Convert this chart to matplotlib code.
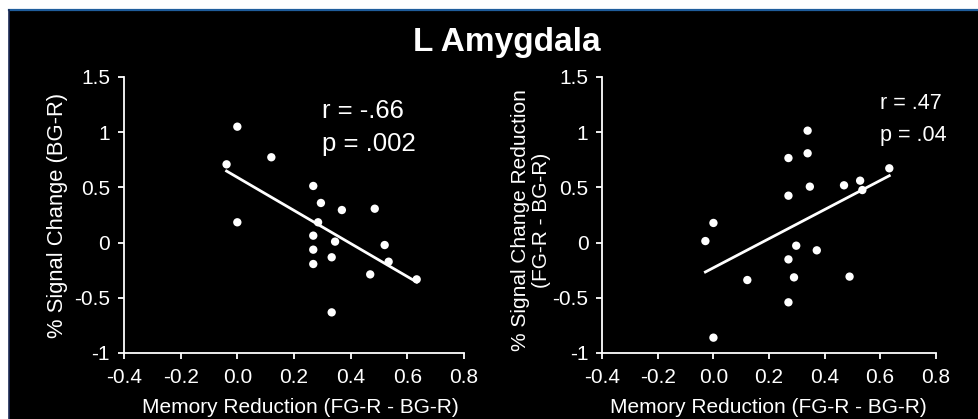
import numpy as np
import matplotlib
matplotlib.use("Agg")
import matplotlib.pyplot as plt
from matplotlib.patches import Rectangle
from matplotlib.lines import Line2D

plt.rcParams['font.family'] = ['Liberation Sans', 'DejaVu Sans']
plt.rcParams['axes.unicode_minus'] = False

# ---- data ----
left_x = [-0.038, 0.0, 0.0, 0.12, 0.268, 0.295, 0.369, 0.485, 0.285, 0.268,
          0.345, 0.268, 0.268, 0.333, 0.520, 0.534, 0.469, 0.633, 0.333]
left_y = [0.709, 1.05, 0.184, 0.773, 0.513, 0.359, 0.295, 0.307, 0.184, 0.063,
          0.009, -0.064, -0.194, -0.133, -0.022, -0.173, -0.288, -0.333, -0.632]

right_x = [-0.029, 0.0, 0.0, 0.122, 0.270, 0.270, 0.270, 0.270, 0.298, 0.290,
           0.339, 0.339, 0.347, 0.372, 0.470, 0.490, 0.528, 0.536, 0.633]
right_y = [0.014, 0.178, -0.861, -0.339, 0.766, 0.425, -0.152, -0.541, -0.028, -0.315,
           1.014, 0.809, 0.507, -0.070, 0.519, -0.308, 0.561, 0.476, 0.673]

x_ticks = [-0.4, -0.2, 0.0, 0.2, 0.4, 0.6, 0.8]
x_tick_labels = ["-0.4", "-0.2", "0.0", "0.2", "0.4", "0.6", "0.8"]
y_ticks = [-1, -0.5, 0, 0.5, 1, 1.5]
y_tick_labels = ["-1", "-0.5", "0", "0.5", "1", "1.5"]

title = "L Amygdala"
xlabel = "Memory Reduction (FG-R - BG-R)"
left_ylabel = "% Signal Change (BG-R)"
right_ylabel = "% Signal Change Reduction\n(FG-R - BG-R)"
left_stats = ["r = -.66", "p = .002"]
right_stats = ["r = .47", "p = .04"]

W, H = 979, 419
fig = plt.figure(figsize=(W / 100, H / 100), dpi=100, facecolor='white')

def fx(px):
    return px / W

def fy(py):
    return 1 - py / H

# black panel with blue border
fig.patches.append(Rectangle((fx(9), 0), 1 - fx(9), fy(10), transform=fig.transFigure,
                             facecolor='black', edgecolor='none', zorder=-10))
fig.lines.append(Line2D([fx(9), 1], [fy(10.5), fy(10.5)], transform=fig.transFigure,
                        color='#1f5d9c', linewidth=1.6))
fig.lines.append(Line2D([fx(9.3), fx(9.3)], [0, fy(10)], transform=fig.transFigure,
                        color='#1b2a55', linewidth=1.2))

def make_axes(left_px, right_px, xs, ys, stats, stat_pos, stat_size):
    ax = fig.add_axes([fx(left_px), fy(353), fx(right_px - left_px), (353 - 77) / H])
    ax.set_facecolor('none')
    ax.set_xlim(-0.4, 0.8)
    ax.set_ylim(-1, 1.5)
    for s in ['top', 'right']:
        ax.spines[s].set_visible(False)
    for s in ['left', 'bottom']:
        ax.spines[s].set_color('white')
        ax.spines[s].set_linewidth(1.3)
    ax.set_xticks(x_ticks)
    ax.set_xticklabels(x_tick_labels)
    ax.set_yticks(y_ticks)
    ax.set_yticklabels(y_tick_labels)
    ax.tick_params(colors='white', labelcolor='white', labelsize=15,
                   length=4, width=1.3, direction='out')
    ax.tick_params(axis='x', pad=7)
    ax.tick_params(axis='y', pad=6)
    xa = np.array(xs)
    ya = np.array(ys)
    ax.scatter(xa, ya, s=36, color='white', edgecolors='none', zorder=3)
    k, b = np.polyfit(xa, ya, 1)
    xx = np.array([xa.min(), xa.max()])
    ax.plot(xx, k * xx + b, color='white', linewidth=2.0, zorder=2)
    (sx, sy1, sy2) = stat_pos
    ax.text(sx, sy1, stats[0], color='white', fontsize=stat_size, ha='left', va='baseline')
    ax.text(sx, sy2, stats[1], color='white', fontsize=stat_size, ha='left', va='baseline')
    return ax

make_axes(124, 464, left_x, left_y, left_stats, (0.298, 1.129, 0.830), 18.5)
make_axes(602.3, 935.7, right_x, right_y, right_stats, (0.60, 1.21, 0.92), 15.5)

fig.text(fx(507), fy(42), title, color='white', fontsize=24, fontweight='bold',
         ha='center', va='center')
fig.text(fx(300), fy(407), xlabel, color='white', fontsize=15, ha='center', va='center')
fig.text(fx(768), fy(407), xlabel, color='white', fontsize=15, ha='center', va='center')
fig.text(fx(58), fy(215), left_ylabel, color='white', fontsize=15.8, rotation=90,
         ha='center', va='center')
fig.text(fx(531), fy(220), right_ylabel, color='white', fontsize=15, rotation=90,
         ha='center', va='center', multialignment='center', linespacing=1.1)

fig.savefig('out.png', dpi=100, facecolor='white')
